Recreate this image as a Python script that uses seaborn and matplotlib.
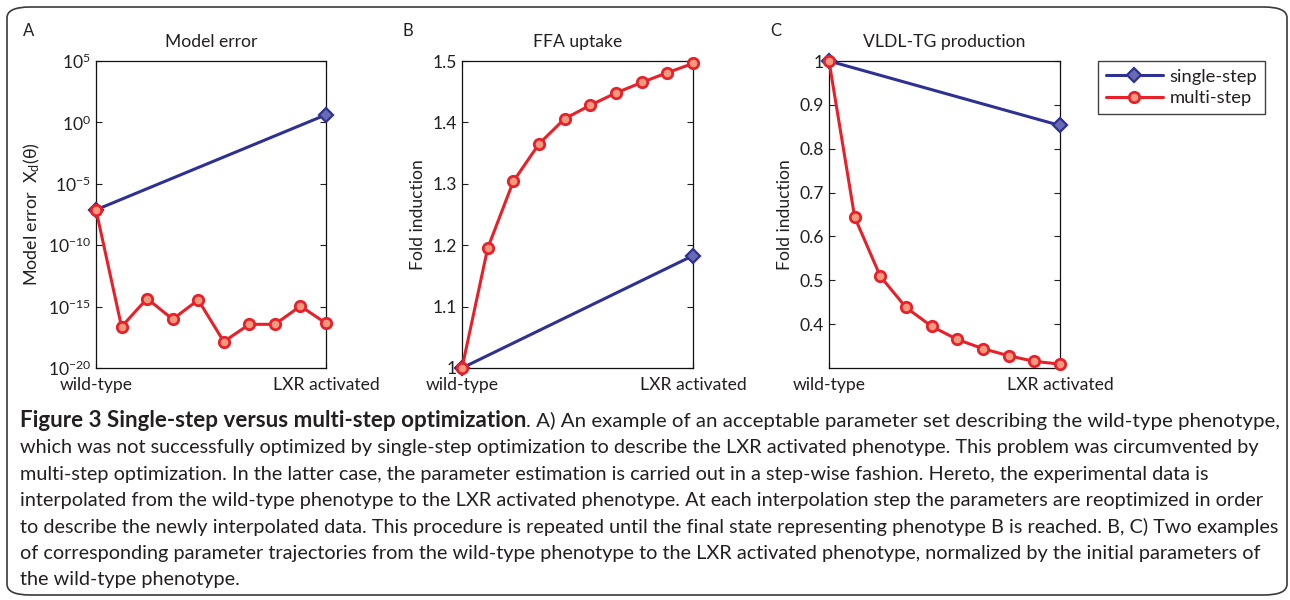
import numpy as np
import pandas as pd
import seaborn as sns
import matplotlib
matplotlib.use("Agg")
import matplotlib.pyplot as plt
from matplotlib.lines import Line2D
from matplotlib.patches import FancyBboxPatch
from matplotlib.ticker import LogFormatterSciNotation, NullLocator

# ---------------- data ----------------
step_multi = [0, 1, 2, 3, 4, 5, 6, 7, 8, 9]
step_single = [0, 9]
x_tick_pos = [0, 9]
x_tick_labels = ["wild-type", "LXR activated"]

err_multi = [7.6e-8, 2.3e-17, 4.5e-15, 9.3e-17, 3.5e-15, 1.4e-18, 3.6e-17, 3.6e-17, 1.1e-15, 4.4e-17]
err_single = [7.6e-8, 4.2]

ffa_multi = [1.0, 1.195, 1.304, 1.365, 1.406, 1.428, 1.448, 1.465, 1.481, 1.496]
ffa_single = [1.0, 1.183]

vldl_multi = [1.0, 0.644, 0.509, 0.438, 0.395, 0.365, 0.344, 0.328, 0.315, 0.309]
vldl_single = [1.0, 0.853]

err_ticks = [1e-20, 1e-15, 1e-10, 1e-5, 1e0, 1e5]
ffa_ticks = [1.0, 1.1, 1.2, 1.3, 1.4, 1.5]
ffa_tick_labels = ["1", "1.1", "1.2", "1.3", "1.4", "1.5"]
vldl_ticks = [0.4, 0.5, 0.6, 0.7, 0.8, 0.9, 1.0]
vldl_tick_labels = ["0.4", "0.5", "0.6", "0.7", "0.8", "0.9", "1"]

panel_titles = ["Model error", "FFA uptake", "VLDL-TG production"]
panel_letters = ["A", "B", "C"]
series_names = ["single-step", "multi-step"]

caption_bold = "Figure 3 Single-step versus multi-step optimization"
caption_lines = [
    ". A) An example of an acceptable parameter set describing the wild-type phenotype,",
    "which was not successfully optimized by single-step optimization to describe the LXR activated phenotype. This problem was circumvented by",
    "multi-step optimization. In the latter case, the parameter estimation is carried out in a step-wise fashion. Hereto, the experimental data is",
    "interpolated from the wild-type phenotype to the LXR activated phenotype. At each interpolation step the parameters are reoptimized in order",
    "to describe the newly interpolated data. This procedure is repeated until the final state representing phenotype B is reached. B, C) Two examples",
    "of corresponding parameter trajectories from the wild-type phenotype to the LXR activated phenotype, normalized by the initial parameters of",
    "the wild-type phenotype.",
]

# ---------------- style ----------------
sns.set_style("ticks")
plt.rcParams["font.family"] = ["Lato", "DejaVu Sans"]
plt.rcParams["mathtext.fontset"] = "custom"
plt.rcParams["mathtext.rm"] = "Lato"
plt.rcParams["mathtext.it"] = "Lato:italic"
plt.rcParams["mathtext.bf"] = "Lato:bold"
plt.rcParams["axes.unicode_minus"] = False

TXT = "#231f20"
RED = "#e8202a"
RED_FACE = "#f29a7e"
BLUE = "#2e3192"
BLUE_FACE = "#6a6ab2"

W, H = 1290, 600
fig = plt.figure(figsize=(W / 100, H / 100), dpi=100)


def fx(px):
    return px / W


def fy(py):
    return 1 - py / H


# rounded frame
frame = FancyBboxPatch((fx(7), fy(595)), fx(1280), (588) / H,
                       boxstyle="round,pad=0,rounding_size=0.018",
                       transform=fig.transFigure, fill=False,
                       edgecolor="#3a3a3a", linewidth=1.2)
fig.patches.append(frame)

axes_px = [(96, 326), (462, 693), (829, 1060)]
top_px, bot_px = 61, 368
axs = []
for (l, r) in axes_px:
    ax = fig.add_axes([fx(l), fy(bot_px), fx(r - l), (bot_px - top_px) / H])
    axs.append(ax)

single_kw = dict(color=BLUE, linewidth=2.2, marker="D", markersize=7,
                 markerfacecolor=BLUE_FACE, markeredgecolor=BLUE,
                 markeredgewidth=1.6, clip_on=False, zorder=3)
multi_kw = dict(color=RED, linewidth=2.2, marker="o", markersize=7.5,
                markerfacecolor=RED_FACE, markeredgecolor=RED,
                markeredgewidth=2.0, clip_on=False, zorder=4)

datasets = [
    (err_single, err_multi),
    (ffa_single, ffa_multi),
    (vldl_single, vldl_multi),
]

FS = 12.6
for i, ax in enumerate(axs):
    s, m = datasets[i]
    df_s = pd.DataFrame({"step": step_single, "value": s})
    df_m = pd.DataFrame({"step": step_multi, "value": m})
    sns.lineplot(data=df_s, x="step", y="value", ax=ax, **single_kw)
    sns.lineplot(data=df_m, x="step", y="value", ax=ax, **multi_kw)
    ax.set_xlim(0, 9)
    ax.set_xticks(x_tick_pos)
    ax.set_xticklabels(x_tick_labels)
    ax.set_xlabel("")
    ax.set_title(panel_titles[i], fontsize=FS, color=TXT, pad=10)
    ax.tick_params(direction="in", length=4, width=0.8, colors=TXT,
                   labelsize=FS, left=True, right=True, top=True, bottom=True,
                   labelcolor=TXT)
    ax.tick_params(axis="x", pad=6.5)
    for sp in ax.spines.values():
        sp.set_visible(True)
        sp.set_color("#111111")
        sp.set_linewidth(0.9)
    fig.text(fx([23, 403, 770][i]), fy(36), panel_letters[i], fontsize=12,
             color=TXT, ha="left", va="baseline")

# panel A
axA = axs[0]
axA.set_yscale("log")
axA.set_ylim(1e-20, 1e5)
axA.set_yticks(err_ticks)
axA.yaxis.set_major_formatter(LogFormatterSciNotation())
axA.yaxis.set_minor_locator(NullLocator())
axA.set_ylabel("Model error  X$_\\mathregular{d}$(θ)", fontsize=12.9, color=TXT, labelpad=4)

# panel B
axB = axs[1]
axB.set_ylim(1.0, 1.5)
axB.set_yticks(ffa_ticks)
axB.set_yticklabels(ffa_tick_labels)
axB.set_ylabel("Fold induction", fontsize=FS, color=TXT, labelpad=5)

# panel C
axC = axs[2]
axC.set_ylim(0.3, 1.0)
axC.set_yticks(vldl_ticks)
axC.set_yticklabels(vldl_tick_labels)
axC.set_ylabel("Fold induction", fontsize=FS, color=TXT, labelpad=5)

# legend
handles = [Line2D([], [], **{k: v for k, v in single_kw.items() if k not in ("clip_on", "zorder")}),
           Line2D([], [], **{k: v for k, v in multi_kw.items() if k not in ("clip_on", "zorder")})]
leg = fig.legend(handles, series_names, loc="upper left",
                 bbox_to_anchor=(fx(1098), fy(61)), bbox_transform=fig.transFigure,
                 fontsize=13.2, frameon=True, fancybox=False, handlelength=3.1,
                 borderpad=0.42, labelspacing=0.3, handletextpad=0.4,
                 borderaxespad=0)
leg.get_frame().set_edgecolor("#111111")
leg.get_frame().set_linewidth(1.0)
for t in leg.get_texts():
    t.set_color(TXT)

# caption: each line fitted to the reference line width
renderer = fig.canvas.get_renderer()


def fitted_text(x_px, base_px, text, target_w, weight="normal"):
    t = fig.text(fx(x_px), fy(base_px), text, fontsize=12, fontweight=weight,
                 color=TXT, ha="left", va="baseline")
    w = t.get_window_extent(renderer=renderer).width
    t.set_fontsize(12 * target_w / w)
    return t


x0 = 20
base0 = 427
step_px = 26.4
line_widths = [749, 1239, 1184, 1243, 1255, 1237, 220]
fitted_text(x0, base0, caption_bold, 504, weight="bold")
fitted_text(526, base0, caption_lines[0], line_widths[0])
for k, line in enumerate(caption_lines[1:], start=1):
    fitted_text(x0, base0 + k * step_px, line, line_widths[k])

fig.savefig("out.png", dpi=100)
